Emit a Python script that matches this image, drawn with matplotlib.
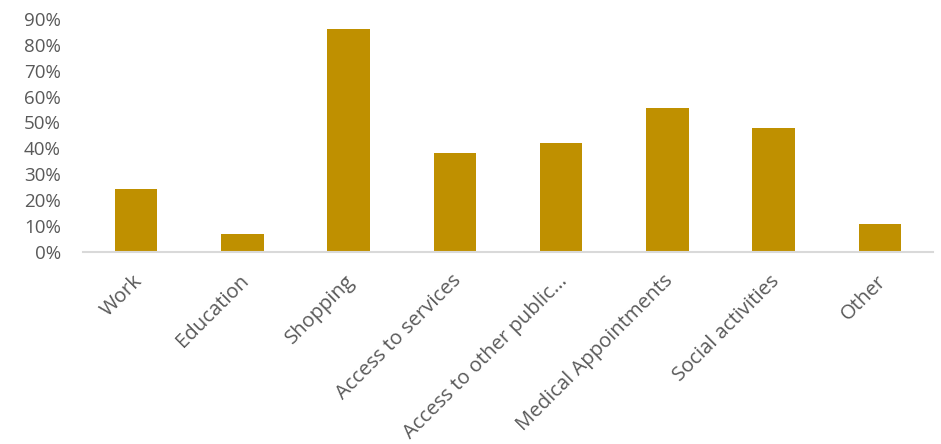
import matplotlib
matplotlib.use('Agg')
import matplotlib.pyplot as plt
import matplotlib.transforms as mtransforms
from matplotlib.ticker import PercentFormatter

categories = ['Work', 'Education', 'Shopping', 'Access to services',
              'Access to other public...', 'Medical Appointments',
              'Social activities', 'Other']
shares = [24.2, 6.7, 86.0, 38.0, 42.0, 55.7, 47.8, 10.6]

plt.rcParams['font.family'] = ['Open Sans', 'DejaVu Sans']

fig = plt.figure(figsize=(9.41, 4.44), dpi=100)
ax = fig.add_axes([83 / 941, 1 - 251.5 / 444, 850 / 941, (251.5 - 19) / 444])

x = range(len(categories))
ax.bar(x, shares, width=0.4, color='#BF9000')

ax.set_xlim(-0.5, len(categories) - 0.5)
ax.set_ylim(0, 90)
ax.set_yticks(range(0, 91, 10))
ax.yaxis.set_major_formatter(PercentFormatter(decimals=0))

for side in ['top', 'right', 'left']:
    ax.spines[side].set_visible(False)
ax.spines['bottom'].set_color('#D9D9D9')
ax.spines['bottom'].set_linewidth(1.5)

ax.tick_params(axis='y', length=0, pad=16, labelsize=13.5, labelcolor='#595959')
ax.tick_params(axis='x', length=0, pad=14, labelsize=14.6, labelcolor='#595959')
ax.set_xticks(list(x))
ax.set_xticklabels(categories, rotation=45, ha='right', va='top', rotation_mode='anchor')
shift = mtransforms.ScaledTranslation(-4 / 100, 0, fig.dpi_scale_trans)
for lbl in ax.get_xticklabels():
    lbl.set_transform(lbl.get_transform() + shift)

fig.savefig('out.png', dpi=100)
